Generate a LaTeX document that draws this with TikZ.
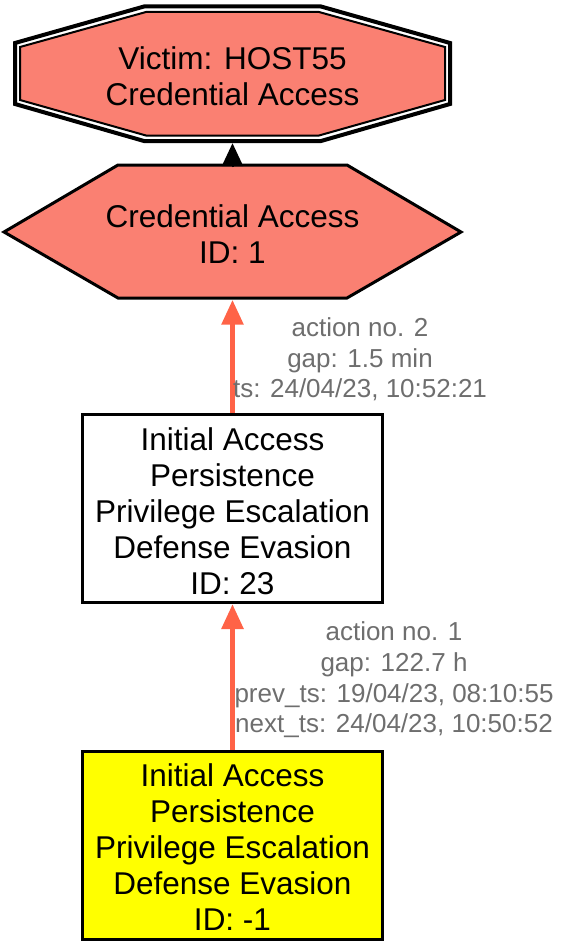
\documentclass[tikz,border=0pt]{standalone}
\usepackage{fontspec}
\setmainfont{Liberation Sans}
\usepackage{tikz}
\usetikzlibrary{arrows.meta, calc}

\definecolor{salmon}{HTML}{FA8072}
\definecolor{tomato}{HTML}{FF6347}
\definecolor{labelgray}{HTML}{6E6E6E}
\definecolor{startyellow}{HTML}{FFFF00}
\newcommand{\topstrut}{\rule{0pt}{27.5pt}}

\begin{document}
\begin{tikzpicture}[x=1pt, y=-1pt,
  nodefont/.style={font=\fontsize{31.5}{36}\selectfont, align=center, inner sep=0pt},
  edgelabel/.style={font=\fontsize{26}{30.7}\selectfont, align=center, text=labelgray},
  tactic/.style={nodefont, draw, line width=3pt, minimum width=300pt, minimum height=188pt},
  actionedge/.style={draw=tomato, line width=5.5pt, -{Triangle[length=25pt, width=21pt]}}]
\useasboundingbox (0,0) rectangle (561,947);
\pgfmathsetmacro{\xc}{232.5}

% Victim: double octagon
\draw[line width=4pt, fill=white] (144,6.5) -- (321,6.5) -- (450,43) -- (450,104) -- (321,141) -- (144,141) -- (15,104) -- (15,43) -- cycle;
\draw[line width=2pt, fill=salmon] (146,12) -- (319,12) -- (445,47) -- (445,100) -- (319,135.5) -- (146,135.5) -- (20,100) -- (20,47) -- cycle;
\node[nodefont, minimum width=439pt, minimum height=139pt] (victim) at (\xc,73.5) {\topstrut Victim: HOST55\\Credential Access};

% Credential Access: hexagon
\draw[line width=3pt, fill=salmon] (118,165) -- (347,165) -- (461,232) -- (347,298) -- (118,298) -- (4,232) -- cycle;
\node[nodefont, minimum width=457pt, minimum height=136pt] (cred) at (\xc,231.5) {\topstrut Credential Access\\ID: 1};

% Tactic boxes
\node[tactic] (tacticA) at (\xc,508.5) {\topstrut Initial Access\\Persistence\\Privilege Escalation\\Defense Evasion\\ID: 23};
\node[tactic, fill=startyellow] (tacticB) at (\xc,845) {\topstrut Initial Access\\Persistence\\Privilege Escalation\\Defense Evasion\\ID: -1};

% Edges
\draw[line width=2pt, -{Triangle[length=23pt, width=21pt]}] ($(cred.north)+(0,4)$) -- (victim.south);
\draw[actionedge] (tacticA.north) -- (cred.south);
\draw[actionedge] (tacticB.north) -- (tacticA.south);

% Edge labels
\node[edgelabel] (gapA) at (360,359.5) {action no. 2\\gap: 1.5 min\\ts: 24/04/23, 10:52:21};
\node[edgelabel] (gapB) at (394,680) {action no. 1\\gap: 122.7 h\\prev\_ts: 19/04/23, 08:10:55\\next\_ts: 24/04/23, 10:50:52};
\end{tikzpicture}
\end{document}
